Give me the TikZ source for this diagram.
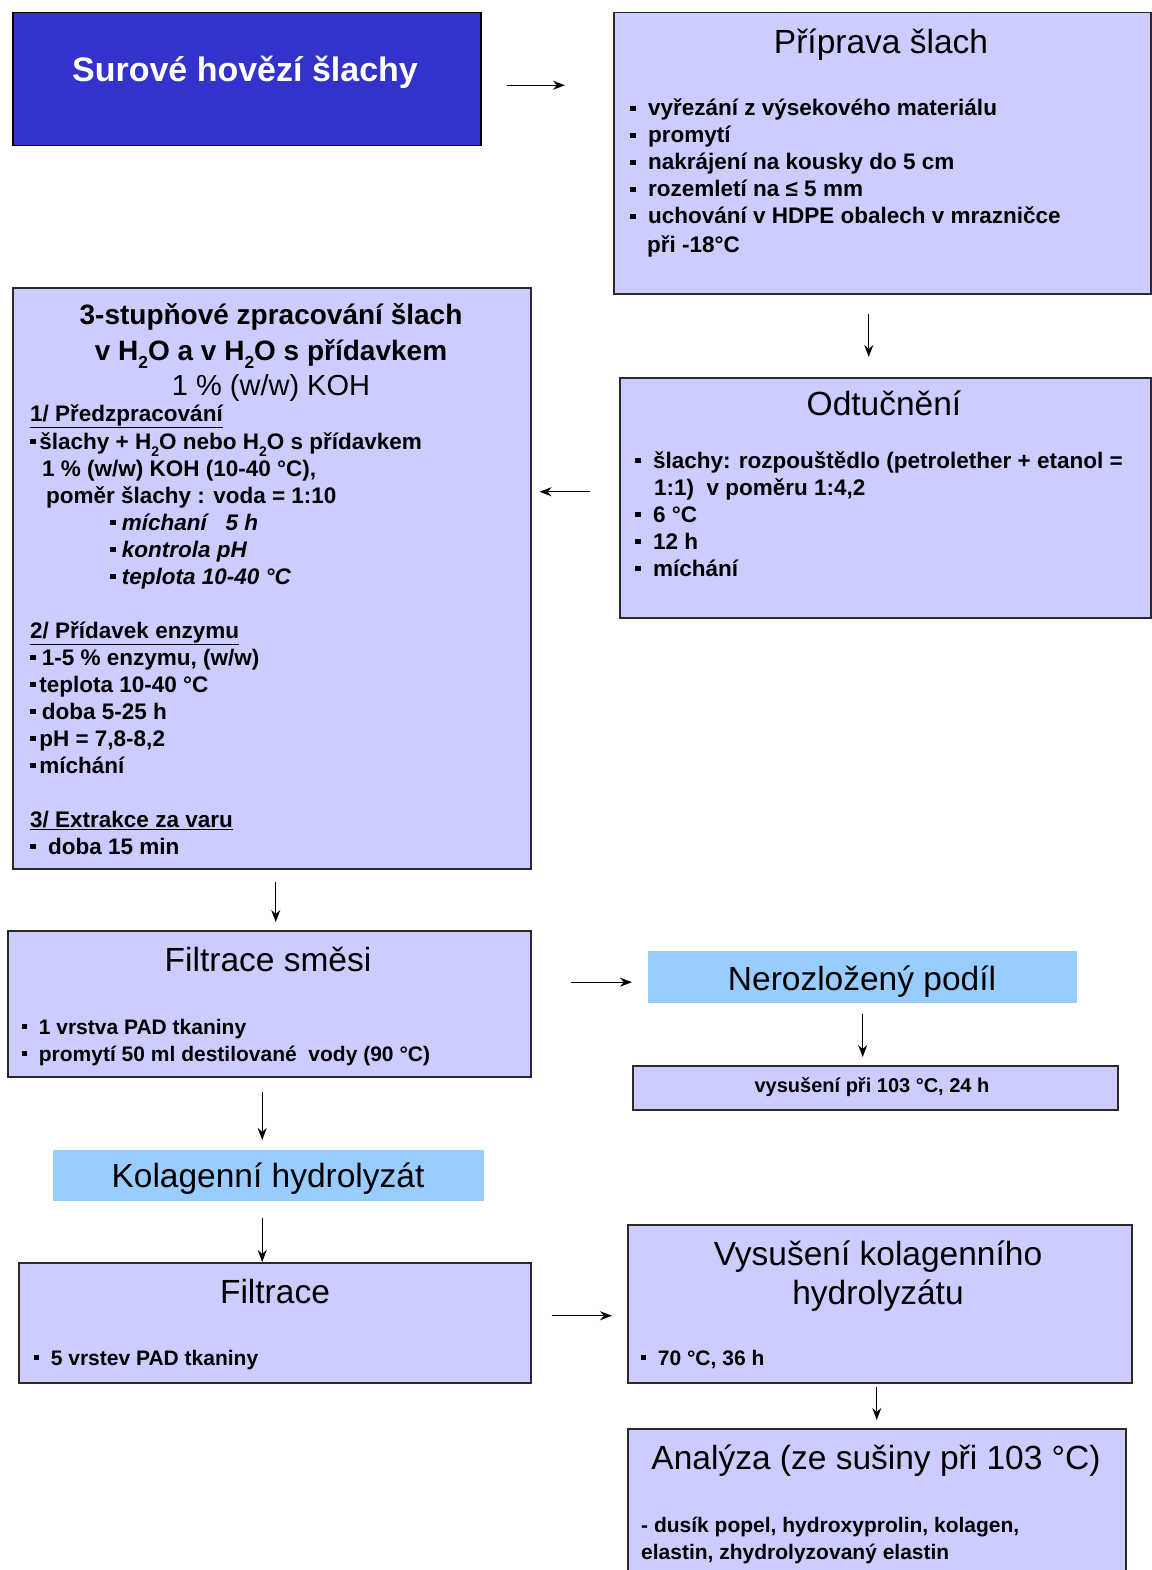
\documentclass[tikz,border=0pt]{standalone}
\usepackage{fontspec}
\setmainfont{Liberation Sans}
\usetikzlibrary{arrows.meta}
\definecolor{dkblue}{HTML}{3333CC}
\definecolor{lilac}{HTML}{CCCCFF}
\definecolor{ltblue}{HTML}{99CCFF}
\definecolor{edge}{HTML}{2A2A2A}
\newcommand\bul{\rule[0.22em]{0.24em}{0.24em}}
\newcommand\hsub[1]{\raisebox{-0.32em}{\scalebox{0.62}{#1}}}
\newcommand\bodyfont{\bfseries\fontsize{22.5}{27}\selectfont}
\newcommand\smallbody{\bfseries\fontsize{21}{27}\selectfont}
\newcommand\titlefont{\fontsize{33.5}{38}\selectfont}
\tikzset{
  box/.style={draw=edge, line width=1.5pt, fill=lilac, anchor=north west, inner sep=0pt},
  lbox/.style={fill=ltblue, anchor=north west, inner sep=0pt},
  tx/.style={anchor=base west, inner sep=0pt, font=\bodyfont},
  sx/.style={anchor=base west, inner sep=0pt, font=\smallbody},
  ti/.style={anchor=base, inner sep=0pt, font=\titlefont},
  arr/.style={line width=1.3pt, -{Stealth[length=12pt,width=9pt]}}
}
\begin{document}
\begin{tikzpicture}[x=1pt,y=-1pt]
\useasboundingbox (0,0) rectangle (1151,1570);
\fill[white] (0,0) rectangle (1151,1570);

% ---- boxes ----
\node[box, draw=black, fill=dkblue, minimum width=468pt, minimum height=133pt] (sur) at (12,12) {};
\node[box, minimum width=537pt, minimum height=281pt] (prip) at (613,12) {};
\node[box, minimum width=531pt, minimum height=240pt] (odt) at (619,377) {};
\node[box, minimum width=518pt, minimum height=581pt] (stup) at (12,287) {};
\node[box, minimum width=523pt, minimum height=146pt] (fs) at (7,930) {};
\node[lbox, minimum width=429pt, minimum height=52pt] (ner) at (648,951) {};
\node[box, minimum width=485pt, minimum height=44pt] (vys) at (632,1065) {};
\node[lbox, minimum width=431pt, minimum height=51pt] (kol) at (53,1150) {};
\node[box, minimum width=512pt, minimum height=120pt] (fil) at (18,1262) {};
\node[box, minimum width=504pt, minimum height=158pt] (vk) at (627,1224) {};
\node[box, minimum width=498pt, minimum height=150pt] (an) at (627,1428) {};

% ---- texts ----
\node[ti, text=white, font=\bfseries\fontsize{34}{38}\selectfont] (surt) at (245,82) {Surové hovězí šlachy};

\node[ti] (pript) at (881,54) {Příprava šlach};
\node[tx] (p1) at (630,116) {\bul\ \ vyřezání z výsekového materiálu};
\node[tx] (p2) at (630,143) {\bul\ \ promytí};
\node[tx] (p3) at (630,170) {\bul\ \ nakrájení na kousky do 5 cm};
\node[tx] (p4) at (630,197) {\bul\ \ rozemletí na ≤ 5 mm};
\node[tx] (p5) at (630,224) {\bul\ \ uchování v HDPE obalech v mrazničce};
\node[tx] (p6) at (647,252) {při -18°C};

\node[ti] (odtt) at (884,415) {Odtučnění};
\node[tx] (o1) at (635,468) {\bul\ \ šlachy: rozpouštědlo (petrolether + etanol =};
\node[tx] (o2) at (654,495) {1:1)\ \ v poměru 1:4,2};
\node[tx] (o3) at (635,522) {\bul\ \ 6 °C};
\node[tx] (o4) at (635,549) {\bul\ \ 12 h};
\node[tx] (o5) at (635,576) {\bul\ \ míchání};

\node[ti, font=\bfseries\fontsize{28}{32}\selectfont] (st1) at (271,324) {3-stupňové zpracování šlach};
\node[ti, font=\bfseries\fontsize{28}{32}\selectfont] (st2) at (271,360) {v H\hsub{2}O a v H\hsub{2}O s přídavkem};
\node[ti, font=\fontsize{29}{32}\selectfont] (st3) at (271,395) {1 \% (w/w) KOH};
\node[tx] (s1) at (30,421) {\underline{1/ Předzpracování}};
\node[tx] (s2) at (30,449) {\bul\,šlachy + H\hsub{2}O nebo H\hsub{2}O s přídavkem};
\node[tx] (s3) at (42,476) {1 \% (w/w) KOH (10-40 °C),};
\node[tx] (s4) at (46,503) {poměr šlachy : voda = 1:10};
\node[tx, font=\bodyfont\itshape] (s5) at (110,530) {\bul\ míchaní\ \ \ 5 h};
\node[tx, font=\bodyfont\itshape] (s6) at (110,557) {\bul\ kontrola pH};
\node[tx, font=\bodyfont\itshape] (s7) at (110,584) {\bul\ teplota 10-40 °C};
\node[tx] (s8) at (30,638) {\underline{2/ Přídavek enzymu}};
\node[tx] (s9) at (30,665) {\bul\ 1-5 \% enzymu, (w/w)};
\node[tx] (s10) at (30,692) {\bul\,teplota 10-40 °C};
\node[tx] (s11) at (30,719) {\bul\ doba 5-25 h};
\node[tx] (s12) at (30,746) {\bul\,pH = 7,8-8,2};
\node[tx] (s13) at (30,773) {\bul\,míchání};
\node[tx] (s14) at (30,827) {\underline{3/ Extrakce za varu}};
\node[tx] (s15) at (30,854) {\bul\ \ doba 15 min};

\node[ti] (fst) at (268,971) {Filtrace směsi};
\node[sx] (f1) at (22,1034) {\bul\ \ 1 vrstva PAD tkaniny};
\node[sx] (f2) at (22,1061) {\bul\ \ promytí 50 ml destilované\ \ vody (90 °C)};

\node[ti] (nert) at (862,990) {Nerozložený podíl};
\node[anchor=base, inner sep=0pt, font=\bfseries\fontsize{20}{24}\selectfont] (vyst) at (872,1092) {vysušení při 103 °C, 24 h};

\node[ti] (kolt) at (268,1187) {Kolagenní hydrolyzát};

\node[ti] (filt) at (275,1303) {Filtrace};
\node[sx] (fl1) at (34,1365) {\bul\ \ 5 vrstev PAD tkaniny};

\node[ti] (vkt1) at (878,1265) {Vysušení kolagenního};
\node[ti] (vkt2) at (878,1304) {hydrolyzátu};
\node[sx] (vk1) at (641,1365) {\bul\ \ 70 °C, 36 h};

\node[ti] (ant) at (876,1469) {Analýza (ze sušiny při 103 °C)};
\node[sx] (an1) at (641,1532) {- dusík popel, hydroxyprolin, kolagen,};
\node[sx] (an2) at (641,1559) {elastin, zhydrolyzovaný elastin};

% ---- connectors ----
\draw[arr, shorten <=25pt, shorten >=48pt] ([yshift=-6pt]sur.east) -- ([yshift=-6pt]sur.east -| prip.west);
\draw[arr, shorten <=19pt, shorten >=20pt] ([xshift=-13.5pt]prip.south) -- ([xshift=-13.5pt]prip.south |- odt.north);
\draw[arr, shorten <=29pt, shorten >=8pt] ([yshift=6pt]odt.west) -- ([yshift=6pt]odt.west -| stup.east);
\draw[arr, shorten <=12pt, shorten >=8pt] ([xshift=4pt]stup.south) -- ([xshift=4pt]stup.south |- fs.north);
\draw[arr, shorten <=39pt, shorten >=16pt] ([yshift=-5pt]ner.west -| fs.east) -- ([yshift=-5pt]ner.west);
\draw[arr, shorten <=11pt, shorten >=8pt] (ner.south) -- (ner.south |- vys.north);
\draw[arr, shorten <=14pt, shorten >=10pt] ([xshift=-6.5pt]kol.north |- fs.south) -- ([xshift=-6.5pt]kol.north);
\draw[arr, shorten <=17pt] ([xshift=-6.5pt]kol.south) -- ([xshift=-6.5pt]kol.south |- fil.north);
\draw[arr, shorten <=20pt, shorten >=15pt] ([yshift=7pt]fil.east) -- ([yshift=7pt]fil.east -| vk.west);
\draw[arr, shorten <=3pt, shorten >=8pt] ([xshift=-3pt]vk.south) -- ([xshift=-3pt]vk.south |- an.north);
\end{tikzpicture}
\end{document}
